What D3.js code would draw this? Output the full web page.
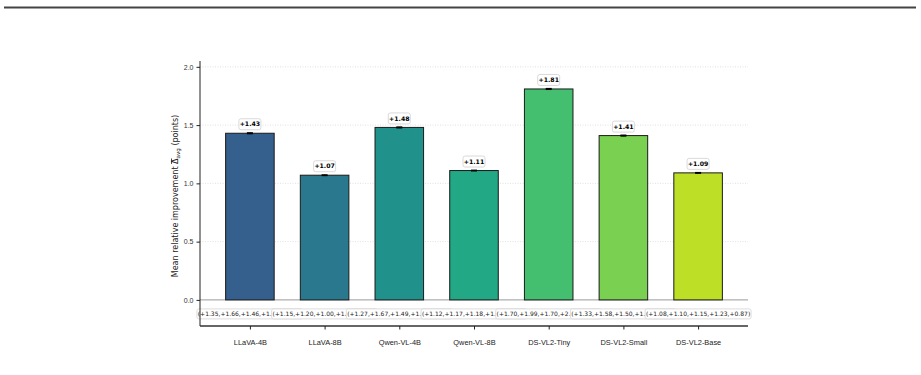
<!DOCTYPE html>
<html>
<head>
<meta charset="utf-8">
<script src="https://cdn.jsdelivr.net/npm/d3@7"></script>
<style>
  body { margin: 0; background: #fff; }
  svg { font-family: "DejaVu Sans", sans-serif; }
</style>
</head>
<body>
<svg id="canvas" width="921" height="375"></svg>
<script>
const models = ["LLaVA-4B", "LLaVA-8B", "Qwen-VL-4B", "Qwen-VL-8B", "DS-VL2-Tiny", "DS-VL2-Small", "DS-VL2-Base"];
const means = [1.43, 1.07, 1.48, 1.11, 1.81, 1.41, 1.09];
const errs = [0.004, 0.003, 0.004, 0.003, 0.004, 0.004, 0.003];
const perRun = [
  ["+1.35", "+1.66", "+1.46", "+1.38", "+1.30"],
  ["+1.15", "+1.20", "+1.00", "+1.02", "+0.98"],
  ["+1.27", "+1.67", "+1.49", "+1.52", "+1.45"],
  ["+1.12", "+1.17", "+1.18", "+1.06", "+1.02"],
  ["+1.70", "+1.99", "+1.70", "+2.03", "+1.63"],
  ["+1.33", "+1.58", "+1.50", "+1.37", "+1.27"],
  ["+1.08", "+1.10", "+1.15", "+1.23", "+0.87"],
];
const yTicks = [0, 0.5, 1.0, 1.5, 2.0];

const svg = d3.select("#canvas");

// rule at top of page
svg.append("line")
  .attr("x1", 4).attr("x2", 916).attr("y1", 7.5).attr("y2", 7.5)
  .style("stroke", "#444").style("stroke-width", 2);

const plotL = 200, plotR = 748, plotT = 61, plotB = 326;

const x = d3.scalePoint().domain(models).range([plotL, plotR]).padding(0.668);
const barW = x.step() * 0.65;
const y = d3.scaleLinear().domain([-0.224, 2.05]).range([plotB, plotT]);
const color = d3.scaleOrdinal().domain(models)
  .range(models.map((d, i) => d3.interpolateViridis(0.3 + i * 0.1)));

// dotted grid
svg.append("g")
  .selectAll("line")
  .data(yTicks.slice(1))
  .join("line")
  .attr("x1", plotL).attr("x2", plotR)
  .attr("y1", (d) => y(d)).attr("y2", (d) => y(d))
  .style("stroke", "#d9d9d9").style("stroke-width", 0.8)
  .style("stroke-dasharray", "1,1.5");

// zero line
svg.append("line")
  .attr("x1", plotL).attr("x2", plotR).attr("y1", y(0)).attr("y2", y(0))
  .style("stroke", "#9a9a9a").style("stroke-width", 1);

// bars
svg.append("g")
  .selectAll("rect")
  .data(models)
  .join("rect")
  .attr("x", (d) => x(d) - barW / 2)
  .attr("width", barW)
  .attr("y", (d, i) => y(means[i]))
  .attr("height", (d, i) => y(0) - y(means[i]))
  .style("fill", (d) => color(d))
  .style("stroke", "#1a1a1a").style("stroke-width", 1);

// error bars (tiny)
const eb = svg.append("g").style("stroke", "#000").style("stroke-width", 1.2);
models.forEach((m, i) => {
  const cx = x(m);
  eb.append("line").attr("x1", cx).attr("x2", cx)
    .attr("y1", y(means[i] - errs[i])).attr("y2", y(means[i] + errs[i]));
  [means[i] - errs[i], means[i] + errs[i]].forEach((v) => {
    eb.append("line").attr("x1", cx - 3).attr("x2", cx + 3)
      .attr("y1", y(v)).attr("y2", y(v));
  });
});

// value labels in boxes
const vl = svg.append("g")
  .selectAll("g")
  .data(models)
  .join("g")
  .attr("transform", (d, i) => `translate(${x(d)},${y(means[i]) - 9})`);
vl.append("rect")
  .attr("x", -11).attr("y", -5.5).attr("width", 22).attr("height", 11)
  .attr("rx", 2)
  .style("fill", "#fff").style("stroke", "#d0d0d0").style("stroke-width", 0.8);
vl.append("text")
  .attr("text-anchor", "middle").attr("dy", "0.35em")
  .style("font-size", "6.2px").style("font-weight", "bold")
  .text((d, i) => "+" + means[i].toFixed(2));

// per-run labels under the zero line (each box covers the one before)
const rl = svg.append("g")
  .selectAll("g")
  .data(models)
  .join("g")
  .attr("transform", (d) => `translate(${x(d)},${y(0) + 14})`);
rl.append("rect")
  .attr("x", -53).attr("y", -5).attr("width", 106).attr("height", 10)
  .attr("rx", 2)
  .style("fill", "#fff").style("stroke", "#d4d4d4").style("stroke-width", 0.8);
rl.append("text")
  .attr("text-anchor", "middle").attr("dy", "0.35em")
  .style("font-size", "6px").style("fill", "#222")
  .text((d, i) => "(" + perRun[i].join(",") + ")");

// axes
const yAxis = d3.axisLeft(y).tickValues(yTicks).tickFormat(d3.format(".1f")).tickSize(3.5).tickPadding(3);
const yg = svg.append("g").attr("transform", `translate(${plotL},0)`).call(yAxis);
yg.select(".domain").attr("d", `M0,${plotT}V${plotB}`).style("stroke", "#222").style("stroke-width", 1);
yg.selectAll(".tick line").style("stroke", "#222");
yg.selectAll("text").style("font-size", "7px").style("fill", "#333");

const xAxis = d3.axisBottom(x).tickSize(3.5).tickPadding(10);
const xg = svg.append("g").attr("transform", `translate(0,${plotB})`).call(xAxis);
xg.select(".domain").attr("d", `M${plotL},0H${plotR}`).style("stroke", "#333").style("stroke-width", 1.6);
xg.selectAll(".tick line").style("stroke", "#222");
xg.selectAll("text").style("font-size", "7.4px").style("fill", "#222");

// y label
const yl = svg.append("text")
  .attr("transform", `translate(178,196) rotate(-90)`)
  .attr("text-anchor", "middle")
  .style("font-size", "8px").style("fill", "#222");
yl.append("tspan").text("Mean relative improvement ");
yl.append("tspan").style("text-decoration", "overline").text("Δ");
yl.append("tspan").attr("dy", 1.5).style("font-size", "5.6px").text("avg");
yl.append("tspan").attr("dy", -1.5).text(" (points)");
</script>
</body>
</html>
